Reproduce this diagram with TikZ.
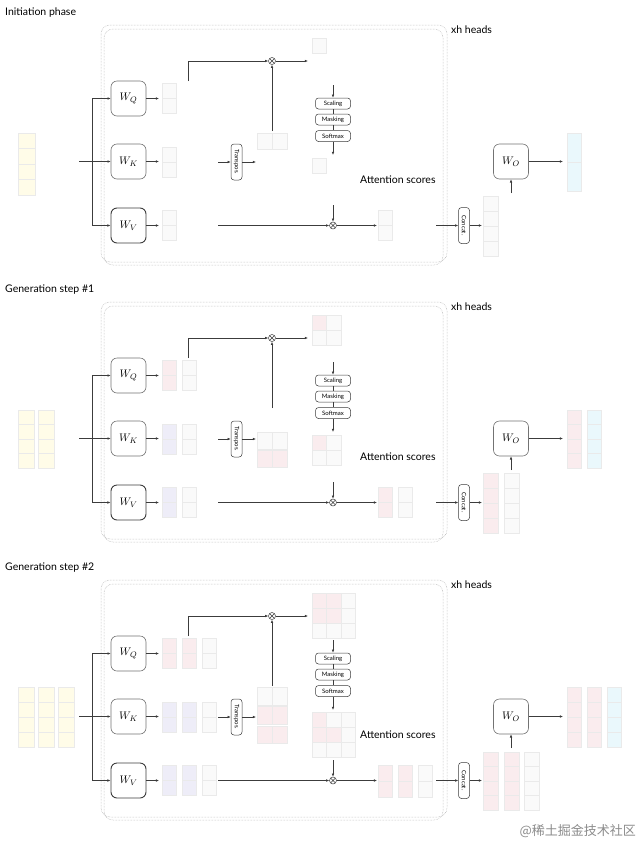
\documentclass[tikz,border=0pt]{standalone}
\usepackage[no-math]{fontspec}
\setmainfont{Lato}
\newfontfamily\cjkfont{Noto Sans CJK SC}
\usetikzlibrary{arrows.meta}
\definecolor{lnc}{RGB}{60,60,60}
\definecolor{boxc}{RGB}{115,115,115}
\definecolor{dotc}{RGB}{170,170,170}
\definecolor{cY}{RGB}{255,252,232}
\definecolor{cR}{RGB}{250,236,238}
\definecolor{cL}{RGB}{238,237,248}
\definecolor{cW}{RGB}{250,250,250}
\definecolor{cC}{RGB}{234,248,252}
\definecolor{gridc}{RGB}{234,234,234}
\definecolor{wmc}{RGB}{140,140,140}

\newcommand\vcol[6]{%
  \fill[#6] (#1,#2) rectangle ++(#3,#4);
  \foreach \k in {1,...,#5}{\draw[gridl] (#1,{#2+(\k-1)*#4/#5}) rectangle ++(#3,{#4/#5});}%
}
\newcommand\gcell[5]{%
  \fill[#5] (#1,#2) rectangle ++(#3,#4);
  \draw[gridl] (#1,#2) rectangle ++(#3,#4);%
}

\newcommand\panel[3]{%
\begin{scope}[shift={(0,#2)}]
\node[ttl, anchor=west] (ttl#1) at (5,13) {#3};
\draw[dotbox] (101,25) rectangle (447,262);
\draw[dotbox] (104,29) rectangle (443,265);
\node[lbl, anchor=west] (hd#1) at (451,30) {xh heads};
\node[wbox] (wq#1) at (128.5,98.5) {$W_Q$};
\node[wbox] (wk#1) at (128.5,161.5) {$W_K$};
\node[wbox, draw=lnc, line width=0.9pt] (wv#1) at (128.5,225.5) {$W_V$};
\coordinate (in#1) at (79,161.5);
\coordinate (br#1) at (92,161.5);
\draw[arr] (in#1) -- (wk#1);
\draw[arr] (br#1) |- (wq#1);
\draw[arr] (br#1) |- (wv#1);
\coordinate (qo#1) at (159,98.5);
\coordinate (ko#1) at (159,161.5);
\coordinate (vo#1) at (159,225.5);
\draw[arr] (wq#1) -- (qo#1);
\draw[arr] (wk#1) -- (ko#1);
\draw[arr] (wv#1) -- (vo#1);
\node[otim] (ma#1) at (272,61) {};
\coordinate (qs#1) at (188,81);
\draw[arr] (qs#1) |- (ma#1);
\coordinate (kt#1) at (272,131);
\draw[arr] (kt#1) -- (ma#1);
\coordinate (qk#1) at (308,61);
\draw[arr] (ma#1) -- (qk#1);
\node[opbox] (sc#1) at (333,103.5) {Scaling};
\node[opbox] (ms#1) at (333,119.5) {Masking};
\node[opbox] (sm#1) at (333,136) {Softmax};
\coordinate (sa#1) at (333,85);
\draw[arr] (sa#1) -- (sc#1);
\draw[ln] (sc#1) -- (ms#1);
\draw[ln] (ms#1) -- (sm#1);
\coordinate (sb#1) at (333,155);
\draw[arr] (sm#1) -- (sb#1);
\node[lbl, anchor=west] (as#1) at (360,180) {Attention scores};
\node[otim] (mb#1) at (333,225.5) {};
\coordinate (aa#1) at (333,205);
\draw[arr] (aa#1) -- (mb#1);
\coordinate (vs#1) at (218,225.5);
\draw[arr] (vs#1) -- (mb#1);
\coordinate (ao#1) at (377,225.5);
\draw[arr] (mb#1) -- (ao#1);
\node[rotbox] (tp#1) at (236.5,162) {Transpos.};
\coordinate (ti#1) at (218,162);
\coordinate (to#1) at (256,162);
\draw[arr] (ti#1) -- (tp#1);
\draw[arr] (tp#1) -- (to#1);
\node[rotbox] (cc#1) at (464,225.5) {Concat.};
\coordinate (ci#1) at (436,225.5);
\coordinate (co#1) at (482,225.5);
\draw[arr] (ci#1) -- (cc#1);
\draw[arr] (cc#1) -- (co#1);
\node[wbox] (wo#1) at (511,161.5) {$W_O$};
\coordinate (wi#1) at (511,193);
\draw[arr] (wi#1) -- (wo#1);
\coordinate (oo#1) at (563,161.5);
\draw[arr] (wo#1) -- (oo#1);
\end{scope}}

\begin{document}
\begin{tikzpicture}[x=1pt,y=-1pt,
  gridl/.style={draw=gridc, line width=0.4pt},
  ttl/.style={font=\fontsize{10.5}{12}\selectfont, inner sep=0pt},
  lbl/.style={font=\fontsize{10.5}{12}\selectfont, inner sep=0pt},
  dotbox/.style={draw=dotc, densely dotted, line width=0.5pt, rounded corners=9pt},
  wbox/.style={draw=boxc, line width=0.6pt, rounded corners=6pt, minimum width=35pt, minimum height=35pt, inner sep=0pt, fill=white, font=\fontsize{11}{13}\selectfont},
  opbox/.style={draw=lnc, line width=0.5pt, rounded corners=3pt, minimum width=35pt, minimum height=11pt, inner sep=0pt, font=\fontsize{6}{7}\selectfont, fill=white},
  rotbox/.style={opbox, rotate=-90, minimum width=36pt, minimum height=11pt},
  otim/.style={circle, draw=lnc, line width=0.5pt, minimum size=7pt, inner sep=0pt, fill=white,
     path picture={\draw[lnc, line width=0.4pt] (path picture bounding box.north west) -- (path picture bounding box.south east) (path picture bounding box.north east) -- (path picture bounding box.south west);}},
  ln/.style={draw=lnc, line width=0.55pt},
  arr/.style={ln, -{Latex[length=3.2pt,width=2.6pt]}}]
\useasboundingbox (0,0) rectangle (640,844);
\fill[white] (0,0) rectangle (640,844);

% ---------- panel 1 matrices
\vcol{18}{133}{17}{62}{4}{cY}
\vcol{162}{83}{14}{30}{2}{cW}
\vcol{162}{147}{14}{30}{2}{cW}
\vcol{162}{210}{14}{30}{2}{cW}
\gcell{257}{133}{15}{16}{cW}\gcell{272}{133}{15}{16}{cW}
\gcell{312}{38}{14}{15}{cW}
\gcell{312}{158}{14}{15}{cW}
\vcol{378}{210}{14}{30}{2}{cW}
\vcol{483}{196}{15}{60}{4}{cW}
\vcol{567}{133}{14}{58}{2}{cC}

% ---------- panel 2 matrices
\begin{scope}[shift={(0,277)}]
\vcol{18}{133}{16}{58}{4}{cY}\vcol{38}{133}{16}{58}{4}{cY}
\vcol{162}{83}{14}{30}{2}{cR}\vcol{182}{83}{14}{30}{2}{cW}
\vcol{162}{147}{14}{30}{2}{cL}\vcol{182}{147}{14}{30}{2}{cW}
\vcol{162}{210}{14}{30}{2}{cL}\vcol{182}{210}{14}{30}{2}{cW}
\gcell{257}{155}{15}{17}{cW}\gcell{272}{155}{15}{17}{cW}
\gcell{257}{173}{15}{17}{cR}\gcell{272}{173}{15}{17}{cR}
\gcell{312}{38}{14.5}{15}{cR}\gcell{326.5}{38}{14.5}{15}{cW}
\gcell{312}{53}{14.5}{15}{cW}\gcell{326.5}{53}{14.5}{15}{cW}
\gcell{312}{158}{14.5}{15}{cR}\gcell{326.5}{158}{14.5}{15}{cW}
\gcell{312}{173}{14.5}{15}{cW}\gcell{326.5}{173}{14.5}{15}{cW}
\vcol{378}{210}{14}{30}{2}{cR}\vcol{398}{210}{14}{30}{2}{cW}
\vcol{483}{196}{15}{60}{4}{cR}\vcol{504}{196}{15}{60}{4}{cW}
\vcol{567}{133}{14}{58}{4}{cR}\vcol{587}{133}{14}{58}{4}{cC}
\end{scope}

% ---------- panel 3 matrices
\begin{scope}[shift={(0,555)}]
\vcol{18}{132}{16}{60}{4}{cY}\vcol{38}{132}{16}{60}{4}{cY}\vcol{58}{132}{16}{60}{4}{cY}
\vcol{162}{83}{14}{30}{2}{cR}\vcol{182}{83}{14}{30}{2}{cR}\vcol{202}{83}{14}{30}{2}{cW}
\vcol{162}{147}{14}{30}{2}{cL}\vcol{182}{147}{14}{30}{2}{cL}\vcol{202}{147}{14}{30}{2}{cW}
\vcol{162}{210}{14}{30}{2}{cL}\vcol{182}{210}{14}{30}{2}{cL}\vcol{202}{210}{14}{30}{2}{cW}
\gcell{257}{132}{15}{18}{cW}\gcell{272}{132}{15}{18}{cW}
\gcell{257}{151}{15}{18}{cR}\gcell{272}{151}{15}{18}{cR}
\gcell{257}{171}{15}{17}{cR}\gcell{272}{171}{15}{17}{cR}
\gcell{312}{38}{14.5}{15}{cR}\gcell{326.5}{38}{14.5}{15}{cR}\gcell{341}{38}{14.5}{15}{cW}
\gcell{312}{53}{14.5}{15}{cR}\gcell{326.5}{53}{14.5}{15}{cR}\gcell{341}{53}{14.5}{15}{cW}
\gcell{312}{68}{14.5}{15}{cW}\gcell{326.5}{68}{14.5}{15}{cW}\gcell{341}{68}{14.5}{15}{cW}
\gcell{312}{157}{14.5}{15}{cR}\gcell{326.5}{157}{14.5}{15}{cW}\gcell{341}{157}{14.5}{15}{cW}
\gcell{312}{172}{14.5}{15}{cR}\gcell{326.5}{172}{14.5}{15}{cR}\gcell{341}{172}{14.5}{15}{cW}
\gcell{312}{187}{14.5}{15}{cW}\gcell{326.5}{187}{14.5}{15}{cW}\gcell{341}{187}{14.5}{15}{cW}
\vcol{378}{210}{14}{32}{2}{cR}\vcol{398}{210}{14}{32}{2}{cR}\vcol{418}{210}{14}{32}{2}{cW}
\vcol{483}{197}{15}{58}{4}{cR}\vcol{504}{197}{15}{58}{4}{cR}\vcol{524}{197}{15}{58}{4}{cW}
\vcol{567}{132}{14}{60}{4}{cR}\vcol{587}{132}{14}{60}{4}{cR}\vcol{607}{132}{14}{60}{4}{cC}
\end{scope}

\panel{a}{0}{Initiation phase}
\panel{b}{277}{Generation step \#1}
\panel{c}{555}{Generation step \#2}

\node[anchor=east, text=wmc, font=\cjkfont\fontsize{13}{14}\selectfont, inner sep=0pt] (wm) at (636,831) {@稀土掘金技术社区};
\end{tikzpicture}
\end{document}
